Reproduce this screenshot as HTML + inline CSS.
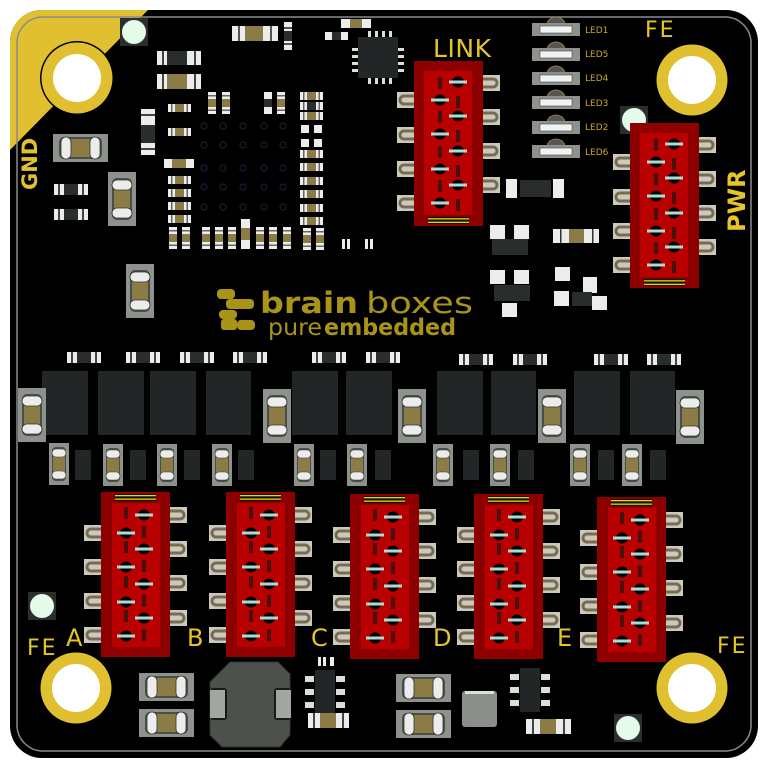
<!DOCTYPE html>
<html><head><meta charset="utf-8"><style>
html,body{margin:0;padding:0;background:#fff;}
svg{display:block;}
text{font-family:"DejaVu Sans","Liberation Sans",sans-serif;}
</style></head><body>
<svg width="768" height="768" viewBox="0 0 768 768" xmlns="http://www.w3.org/2000/svg">
<defs>
  <clipPath id="bc"><rect x="10" y="10" width="748" height="748" rx="32"/></clipPath>
  <g id="rh"><rect x="0" y="0" width="23" height="8" fill="#ececec"/><rect x="3" y="0" width="1.5" height="8" fill="#666"/><rect x="18.5" y="0" width="1.5" height="8" fill="#666"/><rect x="7" y="0" width="9" height="8" fill="#8b7b45"/></g>
  <g id="rhd"><rect x="0" y="0" width="23" height="8" fill="#ececec"/><rect x="3" y="0" width="1.5" height="8" fill="#666"/><rect x="18.5" y="0" width="1.5" height="8" fill="#666"/><rect x="7" y="0" width="9" height="8" fill="#2a2d2e"/></g>
  <g id="rw"><rect x="0" y="0" width="34" height="11" fill="#ececec"/><rect x="4" y="0" width="2" height="11" fill="#444"/><rect x="28" y="0" width="2" height="11" fill="#444"/><rect x="10" y="0" width="14" height="11" fill="#2a2d2e"/></g>
  <g id="rv"><rect x="0" y="0" width="8" height="22" fill="#ececec"/><rect x="0" y="3" width="8" height="1.5" fill="#666"/><rect x="0" y="17.5" width="8" height="1.5" fill="#666"/><rect x="0" y="7" width="8" height="8" fill="#8b7b45"/></g>
  <g id="capV"><rect x="0" y="0" width="28" height="54" fill="#8d928c"/><rect x="4" y="6" width="20" height="42" rx="5" fill="#4a4e48"/><rect x="6" y="8" width="16" height="38" fill="#8b7b45"/><rect x="4" y="8" width="20" height="10" rx="5" fill="#ececec" stroke="#333" stroke-width="0.8"/><rect x="4" y="36" width="20" height="10" rx="5" fill="#ececec" stroke="#333" stroke-width="0.8"/></g>
  <g id="capS"><rect x="0" y="0" width="20" height="42" fill="#8d928c"/><rect x="3" y="4" width="14" height="34" rx="4" fill="#4a4e48"/><rect x="4" y="6" width="12" height="30" fill="#8b7b45"/><rect x="3" y="6" width="14" height="8" rx="4" fill="#ececec" stroke="#333" stroke-width="0.6"/><rect x="3" y="28" width="14" height="8" rx="4" fill="#ececec" stroke="#333" stroke-width="0.6"/></g>
  <g id="capH"><rect x="0" y="0" width="55" height="28" fill="#8d928c"/><rect x="6" y="3" width="43" height="22" rx="5" fill="#4a4e48"/><rect x="8" y="5" width="39" height="18" fill="#8b7b45"/><rect x="8" y="3" width="10" height="22" rx="5" fill="#ececec" stroke="#333" stroke-width="0.8"/><rect x="37" y="3" width="10" height="22" rx="5" fill="#ececec" stroke="#333" stroke-width="0.8"/></g>
  <g id="tab"><rect x="0" y="0" width="17" height="16" fill="#c9c9bd"/><path d="M17 4 H7 a4 4 0 0 0 0 8 H17" fill="none" stroke="#7a6a50" stroke-width="3"/></g>
  <g id="tabR"><rect x="0" y="0" width="17" height="16" fill="#c9c9bd"/><path d="M0 4 H10 a4 4 0 0 1 0 8 H0" fill="none" stroke="#7a6a50" stroke-width="3"/></g>
  <g id="pinL"><ellipse cx="0" cy="0" rx="6" ry="5.5" fill="#000"/><rect x="-9" y="-1.5" width="18" height="3" fill="#a8dcd4"/></g>
  <g id="conn">
    <use href="#tab" x="-17" y="33"/><use href="#tab" x="-17" y="67"/><use href="#tab" x="-17" y="101"/><use href="#tab" x="-17" y="135"/>
    <use href="#tabR" x="69" y="15"/><use href="#tabR" x="69" y="49"/><use href="#tabR" x="69" y="83"/><use href="#tabR" x="69" y="118"/>
    <rect x="0" y="0" width="69" height="165" fill="#8e0000"/>
    <rect x="10" y="10" width="50" height="146" fill="#b80000" stroke="#6a0000" stroke-width="1"/>
    <rect x="14" y="2" width="41" height="7" fill="#111"/><rect x="14" y="3" width="41" height="1.3" fill="#e6d800"/><rect x="14" y="6.5" width="41" height="1.3" fill="#e6d800"/>
    <rect x="0" y="156" width="69" height="9" fill="#900000"/>
    <rect x="23" y="15" width="4" height="12" fill="#4a0f0f"/><rect x="23" y="49" width="4" height="12" fill="#4a0f0f"/><rect x="23" y="84" width="4" height="12" fill="#4a0f0f"/><rect x="23" y="118" width="4" height="12" fill="#4a0f0f"/>
    <rect x="41" y="34" width="4" height="12" fill="#4a0f0f"/><rect x="41" y="68" width="4" height="12" fill="#4a0f0f"/><rect x="41" y="103" width="4" height="12" fill="#4a0f0f"/><rect x="41" y="137" width="4" height="12" fill="#4a0f0f"/>
    <use href="#pinL" x="25" y="41"/><use href="#pinL" x="25" y="75"/><use href="#pinL" x="25" y="110"/><use href="#pinL" x="25" y="144"/>
    <use href="#pinL" x="43" y="23"/><use href="#pinL" x="43" y="57"/><use href="#pinL" x="43" y="92"/><use href="#pinL" x="43" y="126"/>
  </g>
  <g id="hole"><circle r="37" fill="#000"/><circle r="35.5" fill="#e0c030"/><circle r="24" fill="#fff"/></g>
  <g id="tp"><rect x="-14" y="-14" width="28" height="28" fill="#2a2f2e"/><circle r="12" fill="#e4fbea"/></g>
  <g id="led"><path d="M-9 2 a9 8 0 0 1 18 0" fill="#555" stroke="#b08a30" stroke-width="0.8"/><rect x="-24" y="0" width="48" height="13" fill="#8e928c"/><rect x="-16" y="3" width="32" height="7" fill="#f2f2f2" stroke="#444" stroke-width="0.6"/></g>
  <g id="sot"><rect x="-20" y="-6" width="9" height="6" fill="#d8e0d8"/><rect x="-20" y="7" width="9" height="6" fill="#d8e0d8"/><rect x="-20" y="20" width="9" height="6" fill="#d8e0d8"/><rect x="11" y="-6" width="9" height="6" fill="#d8e0d8"/><rect x="11" y="7" width="9" height="6" fill="#d8e0d8"/><rect x="11" y="20" width="9" height="6" fill="#d8e0d8"/><rect x="-10" y="-12" width="20" height="44" fill="#222626"/></g>
</defs>

<!-- board -->
<rect x="10" y="10" width="748" height="748" rx="32" fill="#000"/>
<g clip-path="url(#bc)">
  <polygon points="10,10 148,10 10,150" fill="#e0c030"/>
</g>
<rect x="17" y="17" width="734" height="734" rx="26" fill="none" stroke="#8a8a8a" stroke-width="1.5"/>

<use href="#hole" x="77" y="78"/>
<use href="#hole" x="692" y="80"/>
<use href="#hole" x="76" y="688"/>
<use href="#hole" x="692" y="688"/>
<use href="#tp" x="134" y="32"/>
<use href="#tp" x="634" y="120"/>
<use href="#tp" x="42" y="606"/>
<use href="#tp" x="628" y="728"/>

<!-- labels -->
<text x="0" y="0" transform="translate(37,190) rotate(-90)" font-size="21" font-weight="bold" fill="#e0c030">GND</text>
<text x="433" y="57" font-size="25" fill="#e6c52a" font-family="Liberation Sans Narrow, Liberation Sans, sans-serif" textLength="58">LINK</text>
<text x="645" y="37" font-size="22" fill="#e6c52a" letter-spacing="2">FE</text>
<text x="0" y="0" transform="translate(745,232) rotate(-90)" font-size="24" font-weight="bold" fill="#e6c52a">PWR</text>
<text x="27" y="655" font-size="22" fill="#e6c52a" letter-spacing="2">FE</text>
<text x="66" y="646" font-size="24" fill="#e6c52a">A</text>
<text x="187" y="646" font-size="24" fill="#e6c52a">B</text>
<text x="311" y="646" font-size="24" fill="#e6c52a">C</text>
<text x="433" y="646" font-size="24" fill="#e6c52a">D</text>
<text x="557" y="646" font-size="24" fill="#e6c52a">E</text>
<text x="717" y="653" font-size="22" fill="#e6c52a" letter-spacing="2">FE</text>

<!-- LEDs -->
<use href="#led" x="556" y="23"/><text x="585" y="33" font-size="9" fill="#c8a830">LED1</text>
<use href="#led" x="556" y="48"/><text x="585" y="57" font-size="9" fill="#c8a830">LED5</text>
<use href="#led" x="556" y="72"/><text x="585" y="81" font-size="9" fill="#c8a830">LED4</text>
<use href="#led" x="556" y="96"/><text x="585" y="106" font-size="9" fill="#c8a830">LED3</text>
<use href="#led" x="556" y="121"/><text x="585" y="130" font-size="9" fill="#c8a830">LED2</text>
<use href="#led" x="556" y="145"/><text x="585" y="155" font-size="9" fill="#c8a830">LED6</text>

<!-- top-left components -->
<rect x="232" y="26" width="46" height="15" fill="#ececec"/><rect x="238" y="26" width="2" height="15" fill="#555"/><rect x="270" y="26" width="2" height="15" fill="#555"/><rect x="245" y="26" width="18" height="15" fill="#8b7b45"/>
<rect x="284" y="22" width="8" height="28" fill="#ececec"/><rect x="284" y="27" width="8" height="2" fill="#555"/><rect x="284" y="43" width="8" height="2" fill="#555"/><rect x="284" y="31" width="8" height="10" fill="#2a2d2e"/>
<rect x="157" y="51" width="44" height="14" fill="#ececec"/><rect x="162" y="51" width="2" height="14" fill="#444"/><rect x="194" y="51" width="2" height="14" fill="#444"/><rect x="167" y="51" width="20" height="14" fill="#2a2d2e"/>
<rect x="157" y="74" width="44" height="15" fill="#ececec"/><rect x="162" y="74" width="2" height="15" fill="#444"/><rect x="194" y="74" width="2" height="15" fill="#444"/><rect x="167" y="74" width="20" height="15" fill="#8b7b45"/>
<rect x="141" y="109" width="14" height="46" fill="#ececec"/><rect x="141" y="114" width="14" height="2" fill="#444"/><rect x="141" y="148" width="14" height="2" fill="#444"/><rect x="141" y="125" width="14" height="18" fill="#2a2d2e"/>
<!-- QFN -->
<rect x="358" y="37" width="40" height="41" fill="#222626"/>
<g fill="#d8e0d8"><rect x="368" y="31" width="3" height="6"/><rect x="375" y="31" width="3" height="6"/><rect x="382" y="31" width="3" height="6"/><rect x="389" y="31" width="3" height="6"/>
<rect x="368" y="78" width="3" height="6"/><rect x="375" y="78" width="3" height="6"/><rect x="382" y="78" width="3" height="6"/><rect x="389" y="78" width="3" height="6"/>
<rect x="352" y="48" width="6" height="3"/><rect x="352" y="55" width="6" height="3"/><rect x="352" y="62" width="6" height="3"/><rect x="352" y="69" width="6" height="3"/>
<rect x="398" y="48" width="6" height="3"/><rect x="398" y="55" width="6" height="3"/><rect x="398" y="62" width="6" height="3"/><rect x="398" y="69" width="6" height="3"/></g>
<rect x="341" y="19" width="30" height="9" fill="#ececec"/><rect x="350" y="19" width="12" height="9" fill="#8b7b45"/>
<rect x="325" y="32" width="23" height="8" fill="#ececec"/><rect x="332" y="32" width="9" height="8" fill="#2a2d2e"/>
<!-- small resistors near BGA -->
<use href="#rh" x="168" y="104"/><use href="#rh" x="168" y="128"/>
<rect x="164" y="159" width="30" height="9" fill="#ececec"/><rect x="172" y="159" width="14" height="9" fill="#8b7b45"/>
<use href="#rh" x="168" y="176"/><use href="#rh" x="168" y="189"/><use href="#rh" x="168" y="202"/><use href="#rh" x="168" y="215"/>
<use href="#rv" x="208" y="92"/><use href="#rv" x="222" y="92"/>
<rect x="264" y="92" width="8" height="22" fill="#ececec"/><rect x="264" y="99" width="8" height="8" fill="#2a2d2e"/>
<use href="#rv" x="277" y="92"/>
<use href="#rh" x="300" y="92"/><use href="#rhd" x="300" y="102"/><use href="#rh" x="300" y="112"/>
<g fill="#ececec"><rect x="301" y="125" width="8" height="8"/><rect x="314" y="125" width="8" height="8"/><rect x="301" y="139" width="8" height="8"/><rect x="314" y="139" width="8" height="8"/></g>
<use href="#rh" x="300" y="150"/><use href="#rh" x="300" y="163"/><use href="#rh" x="300" y="177"/><use href="#rh" x="300" y="190"/><use href="#rh" x="300" y="204"/><use href="#rh" x="300" y="217"/>
<use href="#rv" x="169" y="227"/><use href="#rv" x="182" y="227"/><use href="#rv" x="202" y="227"/><use href="#rv" x="215" y="227"/><use href="#rv" x="228" y="227"/>
<rect x="241" y="219" width="9" height="30" fill="#ececec"/><rect x="241" y="228" width="9" height="12" fill="#8b7b45"/>
<use href="#rv" x="256" y="227"/><use href="#rv" x="269" y="227"/><use href="#rv" x="283" y="227"/><use href="#rv" x="303" y="228"/><use href="#rv" x="316" y="228"/>
<g fill="#ececec"><rect x="342" y="239" width="3" height="10"/><rect x="347" y="239" width="3" height="10"/><rect x="365" y="239" width="3" height="10"/><rect x="370" y="239" width="3" height="10"/></g>
<!-- BGA dots -->
<g fill="none" stroke="#1c1c3a" stroke-width="1.2">
<circle cx="204" cy="126" r="3"/><circle cx="223" cy="126" r="3"/><circle cx="243" cy="126" r="3"/><circle cx="264" cy="126" r="3"/><circle cx="283" cy="126" r="3"/>
<circle cx="204" cy="145" r="3"/><circle cx="223" cy="145" r="3"/><circle cx="243" cy="145" r="3"/><circle cx="264" cy="145" r="3"/><circle cx="283" cy="145" r="3"/>
<circle cx="204" cy="168" r="3"/><circle cx="223" cy="168" r="3"/><circle cx="243" cy="168" r="3"/><circle cx="264" cy="168" r="3"/><circle cx="283" cy="168" r="3"/>
<circle cx="204" cy="187" r="3"/><circle cx="223" cy="187" r="3"/><circle cx="243" cy="187" r="3"/><circle cx="264" cy="187" r="3"/><circle cx="283" cy="187" r="3"/>
<circle cx="204" cy="207" r="3"/><circle cx="223" cy="207" r="3"/><circle cx="243" cy="207" r="3"/><circle cx="264" cy="207" r="3"/><circle cx="283" cy="207" r="3"/></g>
<!-- left caps -->
<use href="#capH" x="53" y="134"/>
<use href="#capV" x="108" y="172"/>
<use href="#capV" x="126" y="264"/>
<use href="#rw" x="54" y="184"/><use href="#rw" x="54" y="209"/>

<!-- mid right components -->
<rect x="506" y="179" width="11" height="19" fill="#ececec"/><rect x="520" y="180" width="31" height="17" fill="#2a2d2e"/><rect x="553" y="179" width="11" height="19" fill="#ececec"/>
<g fill="#ececec"><rect x="490" y="225" width="15" height="14"/><rect x="514" y="225" width="15" height="14"/><rect x="490" y="270" width="15" height="14"/><rect x="514" y="270" width="15" height="14"/><rect x="502" y="303" width="15" height="14"/>
<rect x="555" y="267" width="15" height="14"/><rect x="583" y="277" width="14" height="16"/><rect x="554" y="291" width="15" height="15"/><rect x="592" y="296" width="15" height="14"/></g>
<rect x="492" y="239" width="36" height="16" fill="#2a2d2e"/><rect x="494" y="285" width="36" height="16" fill="#2a2d2e"/><rect x="572" y="292" width="20" height="14" fill="#2a2d2e"/>
<rect x="553" y="229" width="46" height="14" fill="#ececec"/><rect x="560" y="229" width="1.5" height="14" fill="#333"/><rect x="592" y="229" width="1.5" height="14" fill="#333"/><rect x="569" y="229" width="15" height="14" fill="#8b7b45"/>

<!-- top connectors -->
<use href="#conn" transform="translate(483,226) rotate(180)"/>
<use href="#conn" transform="translate(699,288) rotate(180)"/>

<!-- logo -->
<g fill="#a89416">
<rect x="217" y="289" width="18" height="10" rx="4"/><rect x="226" y="299" width="28" height="10" rx="4"/><rect x="219" y="310" width="18" height="9" rx="4"/><rect x="237" y="320" width="18" height="10" rx="4"/><rect x="221" y="319" width="16" height="11" rx="3"/>
</g>
<text x="260" y="313" font-size="29" font-weight="bold" fill="#a89416" textLength="98" lengthAdjust="spacingAndGlyphs">brain</text>
<text x="366" y="313" font-size="29" fill="#a89416" textLength="107" lengthAdjust="spacingAndGlyphs">boxes</text>
<text x="268" y="335" font-size="23" fill="#a89416" textLength="54" lengthAdjust="spacingAndGlyphs">pure</text>
<text x="324" y="335" font-size="23" font-weight="bold" fill="#a89416" textLength="132" lengthAdjust="spacingAndGlyphs">embedded</text>

<!-- resistor row -->
<g>
<use href="#rw" x="67" y="352"/><use href="#rw" x="126" y="352"/><use href="#rw" x="180" y="352"/><use href="#rw" x="233" y="352"/>
<use href="#rw" x="312" y="352"/><use href="#rw" x="366" y="352"/><use href="#rw" x="459" y="354"/><use href="#rw" x="513" y="354"/><use href="#rw" x="594" y="354"/><use href="#rw" x="647" y="354"/>
</g>
<!-- dark squares -->
<g fill="#222626">
<rect x="42" y="371" width="46" height="64"/><rect x="98" y="371" width="46" height="64"/><rect x="150" y="371" width="46" height="64"/><rect x="206" y="371" width="45" height="64"/>
<rect x="292" y="371" width="46" height="64"/><rect x="346" y="371" width="46" height="64"/><rect x="437" y="371" width="46" height="64"/><rect x="491" y="371" width="45" height="64"/>
<rect x="574" y="371" width="46" height="64"/><rect x="630" y="371" width="45" height="64"/>
</g>
<use href="#capV" x="18" y="388"/><use href="#capV" x="263" y="389"/><use href="#capV" x="398" y="389"/><use href="#capV" x="538" y="389"/><use href="#capV" x="676" y="390"/>
<!-- small caps row -->
<use href="#capS" x="49" y="443"/><use href="#capS" x="103" y="444"/><use href="#capS" x="157" y="444"/><use href="#capS" x="212" y="444"/>
<use href="#capS" x="294" y="444"/><use href="#capS" x="347" y="444"/><use href="#capS" x="433" y="444"/><use href="#capS" x="490" y="444"/><use href="#capS" x="570" y="444"/><use href="#capS" x="622" y="444"/>
<g fill="#222626">
<rect x="75" y="450" width="16" height="30"/><rect x="130" y="450" width="16" height="30"/><rect x="184" y="450" width="16" height="30"/><rect x="238" y="450" width="16" height="30"/>
<rect x="320" y="450" width="16" height="30"/><rect x="375" y="450" width="16" height="30"/><rect x="463" y="450" width="16" height="30"/><rect x="518" y="450" width="16" height="30"/><rect x="598" y="450" width="16" height="30"/><rect x="650" y="450" width="16" height="30"/>
</g>

<!-- bottom connectors -->
<use href="#conn" x="101" y="492"/>
<use href="#conn" x="226" y="492"/>
<use href="#conn" x="350" y="494"/>
<use href="#conn" x="474" y="494"/>
<use href="#conn" x="597" y="497"/>

<!-- bottom components -->
<use href="#capH" x="139" y="673"/><use href="#capH" x="139" y="709"/>
<path d="M230 662 H278 L290 674 V735 L280 747 H222 L210 735 V682 Z" fill="#4d514b" stroke="#333" stroke-width="1"/>
<rect x="210" y="688" width="17" height="32" rx="3" fill="#1a1a1a"/><rect x="210" y="690" width="15" height="28" fill="#a0a6a0"/>
<rect x="274" y="688" width="17" height="32" rx="3" fill="#1a1a1a"/><rect x="276" y="690" width="15" height="28" fill="#a0a6a0"/>
<use href="#sot" x="325" y="682"/>
<g fill="#ececec"><rect x="318" y="657" width="3" height="9"/><rect x="323" y="657" width="3" height="9"/><rect x="330" y="657" width="4" height="9"/></g>
<rect x="308" y="713" width="41" height="15" fill="#ececec"/><rect x="313" y="713" width="2" height="15" fill="#444"/><rect x="342" y="713" width="2" height="15" fill="#444"/><rect x="320" y="713" width="16" height="15" fill="#8b7b45"/>
<use href="#capH" x="396" y="674"/><use href="#capH" x="396" y="710"/>
<rect x="462" y="691" width="35" height="36" rx="3" fill="#8a8f8a"/><rect x="465" y="691" width="29" height="3" fill="#ddd"/>
<use href="#sot" x="530" y="680"/>
<rect x="526" y="719" width="45" height="15" fill="#ececec"/><rect x="532" y="719" width="2" height="15" fill="#444"/><rect x="563" y="719" width="2" height="15" fill="#444"/><rect x="540" y="719" width="16" height="15" fill="#8b7b45"/>
</svg>
</body></html>
